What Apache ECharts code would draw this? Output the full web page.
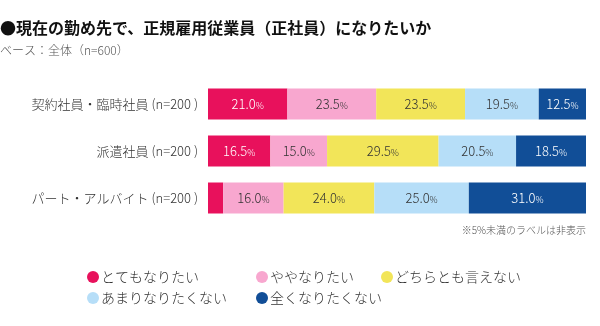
<!DOCTYPE html>
<html>
<head>
<meta charset="utf-8">
<script src="https://cdn.jsdelivr.net/npm/echarts@6/dist/echarts.min.js"></script>
<style>
  html, body { margin: 0; padding: 0; background: #fff; }
  #chart { width: 600px; height: 326px; }
</style>
</head>
<body>
<div id="chart"></div>
<script>
// Survey groups (top to bottom)
const categories = ['契約社員・臨時社員 (n=200 )', '派遣社員 (n=200 )', 'パート・アルバイト (n=200 )'];

// Answer options, in stacking order
const answerNames = ['とてもなりたい', 'ややなりたい', 'どちらとも言えない', 'あまりなりたくない', '全くなりたくない'];

// Shares (%) per group for each answer
const veryMuch   = [21.0, 16.5, 4.0];
const somewhat   = [23.5, 15.0, 16.0];
const neutral    = [23.5, 29.5, 24.0];
const notMuch    = [19.5, 20.5, 25.0];
const notAtAll   = [12.5, 18.5, 31.0];

const answerValues = [veryMuch, somewhat, neutral, notMuch, notAtAll];
const colors = ['#E8115C', '#F8A7CF', '#F2E559', '#B6DEF8', '#114E97'];
const labelColors = ['#ffffff', '#333333', '#333333', '#333333', '#ffffff'];

const FONT = '"Noto Sans CJK JP", "Noto Sans", sans-serif';
const LIGHT = 300;
const HIDE_BELOW = 5;

const chart = echarts.init(document.getElementById('chart'), null, { renderer: 'canvas' });

const series = answerNames.map((name, i) => ({
  name: name,
  type: 'bar',
  stack: 'total',
  barWidth: 31,
  data: answerValues[i],
  itemStyle: { color: colors[i] },
  label: {
    show: true,
    position: 'inside',
    fontFamily: FONT,
    formatter: p => (p.value < HIDE_BELOW ? '' : '{n|' + p.value.toFixed(1) + '}{u|%}'),
    rich: {
      n: { fontSize: 13, color: labelColors[i], fontFamily: FONT, fontWeight: LIGHT },
      u: { fontSize: 9, color: labelColors[i], fontFamily: FONT, fontWeight: LIGHT, padding: [3, 0, 0, 0] }
    }
  },
  emphasis: { disabled: true }
}));

// Legend laid out in three columns
const legendBase = {
  orient: 'vertical',
  icon: 'circle',
  itemWidth: 12,
  itemHeight: 12,
  itemGap: 7,
  padding: 0,
  top: 270,
  selectedMode: false,
  textStyle: { fontSize: 14, color: '#333', fontFamily: FONT, fontWeight: LIGHT, padding: [0, 0, 0, -3] }
};

const option = {
  animation: false,
  backgroundColor: '#ffffff',
  color: colors,
  title: [
    {
      text: '●現在の勤め先で、正規雇用従業員（正社員）になりたいか',
      left: 0, top: 20, padding: 0,
      textStyle: { fontSize: 16, fontWeight: 'bold', color: '#111', fontFamily: FONT }
    },
    {
      text: 'ベース：全体（n=600）',
      left: 0, top: 44, padding: 0,
      textStyle: { fontSize: 12, fontWeight: LIGHT, color: '#555', fontFamily: FONT }
    }
  ],
  legend: [
    Object.assign({}, legendBase, { left: 87, data: [answerNames[0], answerNames[3]] }),
    Object.assign({}, legendBase, { left: 256, data: [answerNames[1], answerNames[4]] }),
    Object.assign({}, legendBase, { left: 381, data: [answerNames[2]] })
  ],
  grid: { left: 208, right: 14, top: 80.5, height: 141, containLabel: false },
  xAxis: { type: 'value', min: 0, max: 100, show: false },
  yAxis: {
    type: 'category',
    data: categories,
    inverse: true,
    axisLine: { show: false },
    axisTick: { show: false },
    axisLabel: { fontSize: 13, color: '#333', margin: 10, fontFamily: FONT, fontWeight: LIGHT }
  },
  graphic: [
    {
      type: 'text',
      right: 14,
      top: 225,
      style: { text: '※5%未満のラベルは非表示', fill: '#555', font: '300 10px ' + FONT }
    }
  ],
  series: series
};

chart.setOption(option);
</script>
</body>
</html>
